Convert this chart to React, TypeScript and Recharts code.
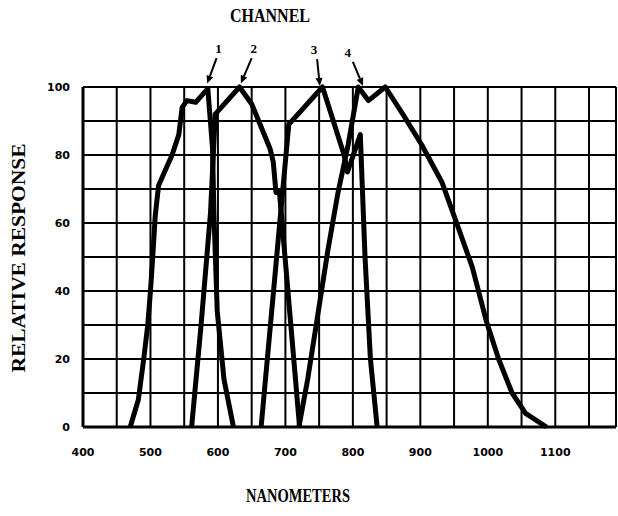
import React from "react"
import {
  LineChart,
  Line,
  XAxis,
  YAxis,
  CartesianGrid,
  ReferenceLine,
  Customized,
} from "recharts"

// ── Data ─────────────────────────────────────────────────────────────────────

type Pt = { nm: number; v: number }

const channel1: Pt[] = [
  { nm: 470, v: 0 }, { nm: 482, v: 8 }, { nm: 490, v: 20 }, { nm: 496, v: 30 },
  { nm: 500, v: 40 }, { nm: 504, v: 52 }, { nm: 507, v: 62 }, { nm: 512, v: 71 },
  { nm: 532, v: 80 }, { nm: 542, v: 86 }, { nm: 547, v: 94 }, { nm: 554, v: 96 },
  { nm: 567, v: 95.5 }, { nm: 585, v: 99.5 }, { nm: 592, v: 82 }, { nm: 594, v: 63 },
  { nm: 599, v: 34 }, { nm: 609, v: 14 }, { nm: 623, v: 0 },
]

const channel2: Pt[] = [
  { nm: 561, v: 0 }, { nm: 575, v: 30 }, { nm: 589, v: 63 }, { nm: 596, v: 92 },
  { nm: 632, v: 100 }, { nm: 650, v: 95 }, { nm: 677, v: 82 }, { nm: 682, v: 78 },
  { nm: 686, v: 69 }, { nm: 691, v: 69.5 }, { nm: 721, v: 0 },
]

const channel3: Pt[] = [
  { nm: 664, v: 0 }, { nm: 705, v: 89 }, { nm: 755, v: 100 }, { nm: 787, v: 80 },
  { nm: 792, v: 75 }, { nm: 811, v: 86 }, { nm: 818, v: 50 }, { nm: 826, v: 20 },
  { nm: 836, v: 0 },
]

const channel4: Pt[] = [
  { nm: 720, v: 0 }, { nm: 733, v: 14 }, { nm: 748, v: 33 }, { nm: 763, v: 52 },
  { nm: 778, v: 69 }, { nm: 793, v: 83 }, { nm: 808, v: 100 }, { nm: 823, v: 96 },
  { nm: 848, v: 100 }, { nm: 874, v: 92 }, { nm: 902, v: 83 }, { nm: 932, v: 72 },
  { nm: 952, v: 61 }, { nm: 977, v: 47 }, { nm: 998, v: 31 }, { nm: 1016, v: 20 },
  { nm: 1036, v: 10 }, { nm: 1056, v: 4 }, { nm: 1087, v: 0 },
]

const channels = [channel1, channel2, channel3, channel4]

const xTicks = [400, 450, 500, 550, 600, 650, 700, 750, 800, 850, 900, 950, 1000, 1050, 1100, 1150]
const yTicks = [0, 10, 20, 30, 40, 50, 60, 70, 80, 90, 100]

// channel label arrows: tail (nm, value) -> head (nm, value)
const channelLabels = ["1", "2", "3", "4"]
const arrowTails: [number, number][] = [[598, 108.5], [650, 108.5], [747, 108.2], [800, 107.4]]
const arrowHeads: [number, number][] = [[584, 101], [634, 101], [751, 100.3], [815, 100.3]]
const labelShift = [2, 2, -3, -5]

// ── Shapes ───────────────────────────────────────────────────────────────────

function Arrow(props: any) {
  const { x1, y1, x2, y2, label, dx } = props
  const ang = Math.atan2(y2 - y1, x2 - x1)
  const len = 8
  const half = 3.5
  const bx = x2 - len * Math.cos(ang)
  const by = y2 - len * Math.sin(ang)
  const px = -Math.sin(ang) * half
  const py = Math.cos(ang) * half
  return (
    <g>
      <line x1={x1} y1={y1} x2={bx} y2={by} stroke="#000" strokeWidth={2} />
      <polygon points={`${x2},${y2} ${bx + px},${by + py} ${bx - px},${by - py}`} fill="#000" />
      <text
        x={x1 + dx}
        y={y1 - 5}
        textAnchor="middle"
        fontFamily="'Liberation Serif', serif"
        fontWeight="bold"
        fontSize={13}
        fill="#000"
      >
        {label}
      </text>
    </g>
  )
}

function Titles() {
  const font = { fontFamily: "'Liberation Serif', serif", fontWeight: "bold" as const, fill: "#000" }
  return (
    <g>
      <text x={270} y={22} textAnchor="middle" fontSize={18} textLength={80}
        lengthAdjust="spacingAndGlyphs" {...font}>CHANNEL</text>
      <text x={298} y={502} textAnchor="middle" fontSize={18} textLength={104}
        lengthAdjust="spacingAndGlyphs" {...font}>NANOMETERS</text>
      <text x={0} y={0} textAnchor="middle" fontSize={18} textLength={229}
        lengthAdjust="spacingAndGlyphs" transform="translate(25,258) rotate(-90)" {...font}>
        RELATIVE RESPONSE
      </text>
    </g>
  )
}

// ── Chart ────────────────────────────────────────────────────────────────────

const tickFont = { fill: "#000", fontSize: 11, fontFamily: "'DejaVu Sans', sans-serif", fontWeight: "bold" }

export default function App() {
  return (
    <div style={{ position: "absolute", left: 0, top: 0, background: "#fff" }}>
      <LineChart width={618} height={516} margin={{ top: 87, right: 2, bottom: 59, left: 33 }}>
        <CartesianGrid stroke="#000" strokeWidth={2} />
        <XAxis
          dataKey="nm"
          type="number"
          domain={[400, 1190]}
          ticks={xTicks}
          interval={0}
          allowDataOverflow
          height={30}
          tickSize={0}
          tickMargin={21}
          tickLine={false}
          axisLine={{ stroke: "#000", strokeWidth: 3 }}
          tick={tickFont}
          tickFormatter={(v: number) => (v % 100 === 0 && v <= 1100 ? String(v) : "")}
        />
        <YAxis
          type="number"
          domain={[0, 100]}
          ticks={yTicks}
          interval={0}
          width={50}
          tickSize={0}
          tickMargin={13}
          tickLine={false}
          axisLine={{ stroke: "#000", strokeWidth: 3 }}
          tick={tickFont}
          tickFormatter={(v: number) => (v % 20 === 0 ? String(v) : "")}
        />
        {channels.map((data, i) => (
          <Line
            key={i}
            data={data}
            dataKey="v"
            type="linear"
            stroke="#000"
            strokeWidth={5}
            strokeLinejoin="round"
            dot={false}
            activeDot={false}
            isAnimationActive={false}
          />
        ))}
        {channelLabels.map((label, i) => (
          <ReferenceLine
            key={label}
            ifOverflow="visible"
            segment={[
              { x: arrowTails[i][0], y: arrowTails[i][1] },
              { x: arrowHeads[i][0], y: arrowHeads[i][1] },
            ]}
            shape={(p: any) => <Arrow {...p} label={label} dx={labelShift[i]} />}
          />
        ))}
        <Customized component={<Titles />} />
      </LineChart>
    </div>
  )
}
